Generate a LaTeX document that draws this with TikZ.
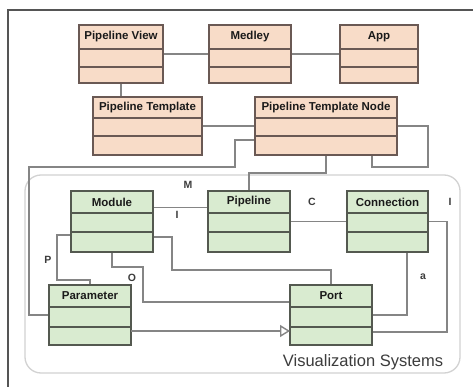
\documentclass[tikz,border=0pt]{standalone}
\usepackage{fontspec}
\setmainfont{Liberation Sans}
\usetikzlibrary{calc,arrows.meta}
\definecolor{orfill}{HTML}{F8DCC8}
\definecolor{ordraw}{HTML}{6A5954}
\definecolor{grfill}{HTML}{D9EBD0}
\definecolor{grdraw}{HTML}{545950}
\definecolor{connc}{HTML}{858585}
\definecolor{framec}{HTML}{555555}
\definecolor{groupc}{HTML}{D2D2D2}
\definecolor{txtc}{HTML}{1A1A1A}
\definecolor{lblc}{HTML}{3C3C3C}
\pgfdeclarelayer{background}
\pgfsetlayers{background,main}
\tikzset{
  orbox/.style={draw=ordraw, fill=orfill, line width=2pt, inner sep=0pt, outer sep=0pt},
  orbox line/.style={draw=ordraw, line width=1.6pt},
  grbox/.style={draw=grdraw, fill=grfill, line width=2pt, inner sep=0pt, outer sep=0pt},
  grbox line/.style={draw=grdraw, line width=1.6pt},
  hdr/.style={font=\fontsize{11.5}{12}\selectfont\bfseries, text=txtc, inner sep=0pt},
  wire/.style={draw=connc, line width=1.7pt},
  rolelbl/.style={font=\fontsize{10.5}{11}\selectfont\bfseries, text=lblc, inner sep=0pt},
}
\newcommand\umlclass[9]{%
  \node[#9, minimum width=#4pt, minimum height=#5pt] (#1) at (#2,#3) {};
  \draw[#9 line] ($(#1.north west)+(0,#6)$) -- ($(#1.north east)+(0,#6)$);
  \draw[#9 line] ($(#1.north west)+(0,#7)$) -- ($(#1.north east)+(0,#7)$);
  \node[hdr] (#1-t) at ($(#1.north)+(0,#6/2)$) {#8};
}
\begin{document}
\begin{tikzpicture}[x=1pt,y=-1pt]
\useasboundingbox (0,0) rectangle (473,387);
\begin{pgfonlayer}{background}
\fill[white] (0,0) rectangle (473,387);
% outer frame (clipped at right and bottom)
\draw[framec, line width=1.4pt] (8,387) -- (8,10) -- (473,10);
% group
\draw[groupc, line width=1.3pt, rounded corners=16pt] (25,175) rectangle (460,373);
\end{pgfonlayer}
\node[font=\fontsize{16.5}{17}\selectfont, text=lblc, inner sep=0pt] (grp) at (363,362) {Visualization Systems};

\coordinate (j1) at (235,167);
\coordinate (j2) at (29,167);
\coordinate (j3) at (249,173);
\coordinate (l1) at (428,167);
\coordinate (j4) at (447,332);
\coordinate (j5) at (57,280);
\coordinate (j6) at (143,267);
\coordinate (j7) at (172,270);

% classes
\umlclass{pv}{121}{54}{84}{58}{24}{42}{Pipeline View}{orbox}
\umlclass{med}{250}{54}{82}{58}{24}{42}{Medley}{orbox}
\umlclass{app}{379}{54}{78}{58}{24}{42}{App}{orbox}
\umlclass{pt}{147.5}{126}{109}{58}{21}{39}{Pipeline Template}{orbox}
\umlclass{ptn}{326}{126}{142}{58}{21}{39}{Pipeline Template Node}{orbox}
\umlclass{mod}{112}{221.5}{82}{61}{22}{41}{Module}{grbox}
\umlclass{pl}{249}{221.5}{82}{61}{22}{41}{Pipeline}{grbox}
\umlclass{con}{387.5}{221.5}{81}{61}{22}{41}{Connection}{grbox}
\umlclass{par}{90}{315}{82}{60}{22}{42}{Parameter}{grbox}
\umlclass{port}{331}{315}{82}{60}{22}{42}{Port}{grbox}

\begin{pgfonlayer}{background}
% top associations
\draw[wire] (pv.east) -- (med.west);
\draw[wire] (med.east) -- (app.west);
\draw[wire] (pv.south) -- (pv.south |- pt.north);
\draw[wire] (pt.east) -- (ptn.west);
\draw[wire] (ptn.east) -| (l1) -| ($(ptn.south west)+(117,0)$);
\draw[wire] ($(ptn.west)+(0,14)$) -| (j1) -- (j2) |- (par.west);
\draw[wire] (ptn.south) |- (j3) -- (pl.north);
% visualization system associations
\draw[wire] ($(mod.east)+(0,-14)$) -- ($(pl.west)+(0,-14)$);
\draw[wire] (pl.east) -- (con.west);
\draw[wire] (con.east) -| (j4) -- (port.east |- j4);
\draw[wire] ($(con.south)+(19.5,0)$) |- (port.east);
\draw[wire] ($(mod.west)+(0,13.5)$) -| (j5) -| (par.north);
\draw[wire] (mod.south) |- (j6) |- ($(port.west)+(0,-13)$);
\draw[wire] ($(mod.east)+(0,15.5)$) -| (j7) -| (port.north);
\end{pgfonlayer}
\draw[wire, -{Triangle[open, length=10pt, width=12pt, line width=1.4pt]}] ($(par.east)+(0,16)$) -- ($(port.west)+(0,16)$);

% role labels
\node[rolelbl] (lm) at (188,185) {M};
\node[rolelbl] (li1) at (177,215) {I};
\node[rolelbl] (lc) at (312,202) {C};
\node[rolelbl] (li2) at (450,202) {I};
\node[rolelbl] (lp) at (48,260) {P};
\node[rolelbl] (lo) at (132,278) {O};
\node[rolelbl] (la) at (423,277) {a};
\end{tikzpicture}
\end{document}
